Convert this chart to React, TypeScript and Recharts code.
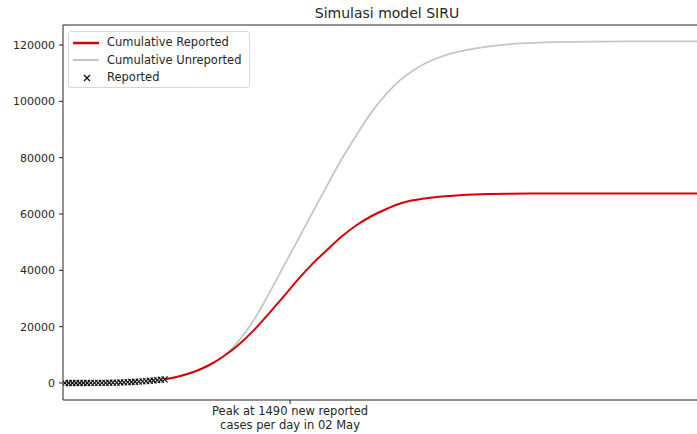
import React from "react";
import {
  ComposedChart,
  Line,
  Scatter,
  XAxis,
  YAxis,
  ReferenceLine,
} from "recharts";

const TITLE = "Simulasi model SIRU";

// Observed cumulative reported cases (day index, value)
const reportedDays = [0, 1, 2, 3, 4, 5, 6, 7, 8, 9, 10, 11, 12, 13, 14, 15, 16, 17, 18, 19, 20, 21, 22, 23, 24, 25, 26, 27];
const reportedCases = [2, 2, 2, 2, 4, 4, 6, 19, 27, 34, 34, 69, 96, 117, 134, 172, 227, 311, 369, 450, 514, 579, 686, 790, 893, 1046, 1155, 1285];

// Model curves
const curveDays = [27, 31, 35, 39, 43, 47, 51, 55, 59, 63, 67, 71, 75, 79, 83, 87, 91, 95, 99, 103, 107, 111, 115, 120, 130, 145, 160, 172];
const cumReported = [1300, 2400, 4000, 6300, 9500, 13500, 18500, 24300, 30300, 36500, 42200, 47200, 52000, 56000, 59200, 61700, 63800, 65000, 65800, 66300, 66700, 66950, 67100, 67200, 67300, 67300, 67300, 67300];
const cumUnreported = [1300, 2400, 4000, 6200, 9500, 14800, 22000, 31000, 40800, 50500, 60300, 70000, 79500, 88000, 96000, 102500, 107700, 111500, 114300, 116300, 117700, 118700, 119500, 120200, 120900, 121200, 121300, 121300];

const yTicks = [0, 20000, 40000, 60000, 80000, 100000, 120000];
const peakDay = 61;
const peakLabel = ["Peak at 1490 new reported", "cases per day in 02 May"];
const legendLabels = ["Cumulative Reported", "Cumulative Unreported", "Reported"];

const Y_MIN = -6036;
const Y_MAX = 127100;

const reportedData = reportedDays.map((d, i) => ({ day: d, value: reportedCases[i] }));
const redData = curveDays.map((d, i) => ({ day: d, value: cumReported[i] }));
const greyData = curveDays.map((d, i) => ({ day: d, value: cumUnreported[i] }));

const FONT = "'DejaVu Sans', sans-serif";
const TEXT = "#262626";
const RED = "#d80000";
const GREY = "#c6c6c6";

const XMark = (props: any) => {
  const { cx, cy } = props;
  if (cx == null || cy == null) return null;
  const s = 3;
  return (
    <g>
      <line x1={cx - s} y1={cy - s} x2={cx + s} y2={cy + s} stroke="#111" strokeWidth={1.2} />
      <line x1={cx - s} y1={cy + s} x2={cx + s} y2={cy - s} stroke="#111" strokeWidth={1.2} />
    </g>
  );
};

const PeakTick = (props: any) => {
  const { x, y } = props;
  return (
    <text x={x} textAnchor="middle" fontFamily={FONT} fontSize={11.5} fill={TEXT}>
      <tspan x={x} y={y + 9}>{peakLabel[0]}</tspan>
      <tspan x={x} y={y + 22.5}>{peakLabel[1]}</tspan>
    </text>
  );
};

const LegendBox = () => (
  <div
    style={{
      position: "absolute",
      top: 31,
      left: 68,
      border: "1px solid #d8d8d8",
      borderRadius: 3,
      background: "rgba(255,255,255,0.85)",
      padding: "2px 4px 0px 4px",
      fontFamily: FONT,
      fontSize: 11.5,
      color: TEXT,
      lineHeight: "17.5px",
      width: 182,
      boxSizing: "border-box",
      whiteSpace: "nowrap",
      zIndex: 3,
    }}
  >
    <div style={{ display: "flex", alignItems: "center" }}>
      <svg width={26} height={10} style={{ marginRight: 8 }}>
        <line x1={0} y1={5} x2={26} y2={5} stroke={RED} strokeWidth={2.5} />
      </svg>
      {legendLabels[0]}
    </div>
    <div style={{ display: "flex", alignItems: "center" }}>
      <svg width={26} height={10} style={{ marginRight: 8 }}>
        <line x1={0} y1={5} x2={26} y2={5} stroke={GREY} strokeWidth={2} />
      </svg>
      {legendLabels[1]}
    </div>
    <div style={{ display: "flex", alignItems: "center" }}>
      <svg width={26} height={10} style={{ marginRight: 8 }}>
        <line x1={11} y1={2} x2={17} y2={8} stroke="#111" strokeWidth={1.3} />
        <line x1={11} y1={8} x2={17} y2={2} stroke="#111" strokeWidth={1.3} />
      </svg>
      {legendLabels[2]}
    </div>
  </div>
);

export default function App() {
  return (
    <div style={{ position: "relative", width: 697, height: 434, overflow: "hidden", background: "#fff" }}>
      <style>{`html,body{margin:0;padding:0;overflow:hidden;}`}</style>
      <div
        style={{
          position: "absolute",
          top: 5,
          left: 0,
          width: 774,
          textAlign: "center",
          fontFamily: FONT,
          fontSize: 14,
          color: TEXT,
          zIndex: 2,
        }}
      >
        {TITLE}
      </div>
      <LegendBox />
      <ComposedChart
        width={697}
        height={434}
        margin={{ top: 25, right: 0, bottom: 0, left: 0 }}
      >
        <XAxis
          type="number"
          dataKey="day"
          domain={[-0.54, 171.3]}
          allowDataOverflow
          ticks={[peakDay]}
          tick={<PeakTick />}
          tickSize={4}
          height={34}
          stroke={TEXT}
          tickLine={{ stroke: TEXT }}
        />
        <YAxis
          type="number"
          domain={[Y_MIN, Y_MAX]}
          allowDataOverflow
          ticks={yTicks}
          width={63}
          tickSize={4}
          tickMargin={4}
          stroke={TEXT}
          tick={{ fontFamily: FONT, fontSize: 11, fill: TEXT }}
        />
        <ReferenceLine y={Y_MAX} stroke={TEXT} strokeWidth={1} ifOverflow="visible" />
        <Line
          data={greyData}
          dataKey="value"
          type="monotone"
          stroke={GREY}
          strokeWidth={1.8}
          dot={false}
          isAnimationActive={false}
        />
        <Line
          data={redData}
          dataKey="value"
          type="monotone"
          stroke={RED}
          strokeWidth={2}
          dot={false}
          isAnimationActive={false}
        />
        <Scatter
          data={reportedData}
          dataKey="value"
          shape={<XMark />}
          isAnimationActive={false}
        />
      </ComposedChart>
    </div>
  );
}
